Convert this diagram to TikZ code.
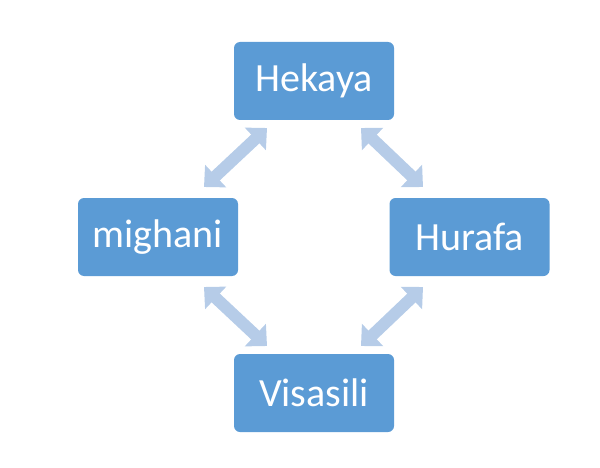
\documentclass[tikz,border=0pt]{standalone}
\usepackage{fontspec}
\setmainfont{Carlito}
\usetikzlibrary{arrows.meta}
\definecolor{boxblue}{RGB}{91,155,213}
\definecolor{arrowblue}{RGB}{182,204,232}
\begin{document}
\begin{tikzpicture}[x=1pt,y=1pt,
  box/.style={fill=boxblue,draw=none,rounded corners=6pt,minimum width=160pt,minimum height=78pt,text=white,font=\fontsize{40}{42}\selectfont,inner sep=0pt},
  blockarrow/.style={draw=arrowblue,line width=12pt,{Triangle[width=30pt,length=16pt]}-{Triangle[width=30pt,length=16pt]}}]
\useasboundingbox (0,0) rectangle (600,467);
\node[box] (hek) at (314,386) {Hekaya};
\node[box] (hur) at (469.5,230) {Hurafa};
\node[box] (mig) at (158,230) {mighani};
\node[box] (vis) at (314,74) {Visasili};
\coordinate (a1) at (204,280);
\coordinate (a2) at (267,339);
\coordinate (b1) at (361,339);
\coordinate (b2) at (423,280);
\coordinate (c1) at (204,180);
\coordinate (c2) at (267,121);
\coordinate (d1) at (423,180);
\coordinate (d2) at (361,121);
\draw[blockarrow] (a1) -- (a2);
\draw[blockarrow] (b1) -- (b2);
\draw[blockarrow] (c1) -- (c2);
\draw[blockarrow] (d1) -- (d2);
\end{tikzpicture}
\end{document}
